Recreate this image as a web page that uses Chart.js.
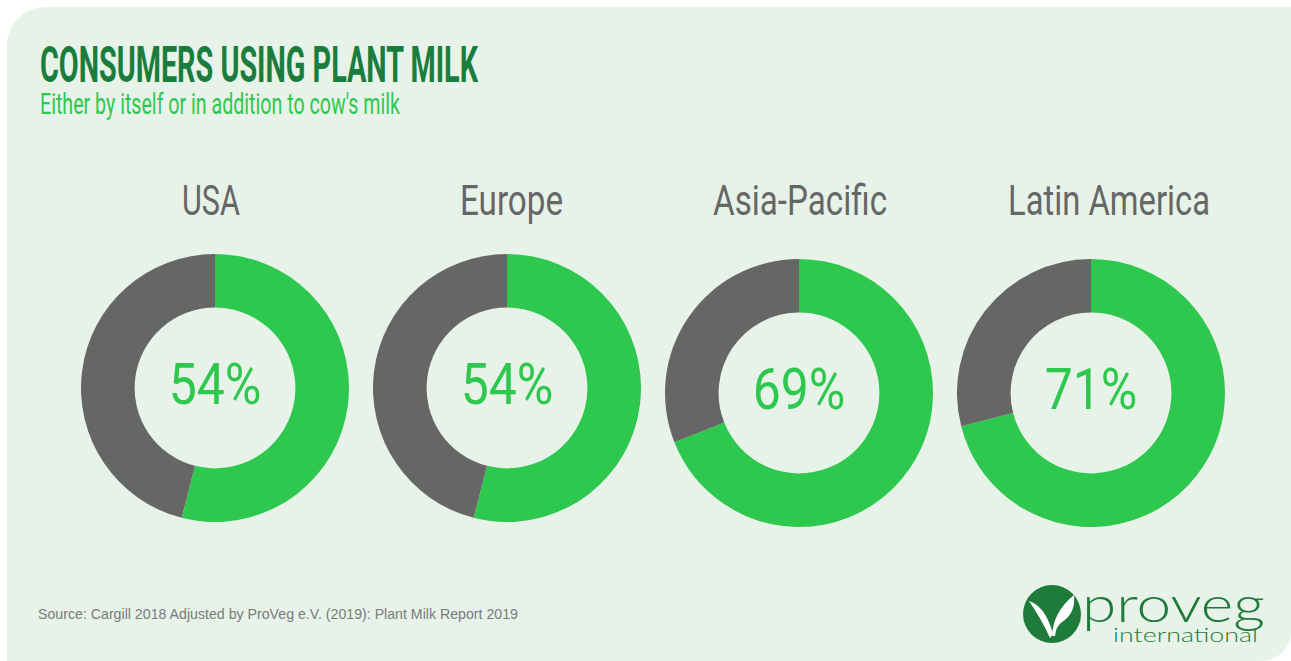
<!DOCTYPE html>
<html>
<head>
<meta charset="utf-8">
<script src="https://cdn.jsdelivr.net/npm/chart.js@4.4.1/dist/chart.umd.min.js"></script>
<style>
  html, body { margin: 0; padding: 0; background: #fff; }
  body { width: 1291px; height: 661px; position: relative; overflow: hidden;
         font-family: Roboto, "Liberation Sans", sans-serif; }
  #panel { position: absolute; left: 7px; top: 7px; width: 1284px; height: 654px;
           background: #e7f3e9; border-radius: 38px 0 30px 0; }
  .txt { position: absolute; white-space: nowrap; line-height: 1; transform-origin: 0 0; }
  #title { left: 40px; top: 40px; font-size: 50px; font-weight: bold; color: #1a7d3c; }
  #subtitle { left: 40px; top: 90px; font-size: 29.5px; color: #2dc84d; }
  .region { font-size: 42px; color: #666; top: 180px; }
  #source { left: 38px; top: 607px; font-family: "Liberation Sans", Arial, sans-serif;
            font-size: 14.5px; color: #7a7a7a; }
  canvas.ring { position: absolute; }
  #logo { position: absolute; left: 1015px; top: 580px; }
</style>
</head>
<body>
<div id="panel"></div>
<div class="txt" id="title">CONSUMERS USING PLANT MILK</div>
<div class="txt" id="subtitle">Either by itself or in addition to cow's milk</div>
<div class="txt" id="source">Source: Cargill 2018 Adjusted by ProVeg e.V. (2019): Plant Milk Report 2019</div>

<svg id="logo" width="270" height="78" viewBox="0 0 270 78">
  <circle cx="37" cy="34" r="29" fill="#1e7b3a"/>
  <path d="M35 58 Q27 40 14 21 Q24 24 31 36 Q36 46 38 54 Z" fill="#fff"/>
  <path d="M37 56 Q38 32 59 15 Q61 33 47 42 Q41 46 40 56 Z" fill="#fff"/>
  <text x="67" y="42" font-family="Lato, 'Open Sans', sans-serif" font-weight="300" font-size="50" fill="#1e7b3a"
        textLength="183" lengthAdjust="spacingAndGlyphs">proveg</text>
  <text x="98" y="62" font-family="Lato, 'Open Sans', sans-serif" font-weight="300" font-size="20" fill="#1e7b3a"
        textLength="145" lengthAdjust="spacingAndGlyphs">international</text>
</svg>

<script>
// data
const regions = ['USA', 'Europe', 'Asia-Pacific', 'Latin America'];
const usingPlantMilk = [54, 54, 69, 71];
const notUsing = [46, 46, 31, 29];

// layout: ring centres, label centre x and label widths
const ringX = [215, 507, 799, 1091];
const ringY = [388, 388, 393, 393];
const labelX = [211, 511, 800, 1109];
const labelW = [58, 103, 174, 202];
const R = 134;

const GREEN = '#2dc84d';
const GREY = '#666666';

// squeeze a text block to a given pixel width
function fit(el, w) {
  const cur = el.getBoundingClientRect().width;
  el.style.transform = 'scaleX(' + (w / cur) + ')';
}
fit(document.getElementById('title'), 438);
fit(document.getElementById('subtitle'), 360);
fit(document.getElementById('source'), 480);

const centerText = {
  id: 'centerText',
  afterDraw(chart, args, opts) {
    const arc = chart.getDatasetMeta(0).data[0];
    const ctx = chart.ctx;
    ctx.save();
    ctx.font = '58px Roboto';
    ctx.fillStyle = GREEN;
    ctx.textAlign = 'center';
    ctx.textBaseline = 'alphabetic';
    ctx.translate(arc.x, arc.y + 16);
    ctx.scale(0.86, 1);
    ctx.fillText(opts.text, 0, 0);
    ctx.restore();
  }
};

regions.forEach((name, i) => {
  // region label above the ring
  const lab = document.createElement('div');
  lab.className = 'txt region';
  lab.textContent = name;
  document.body.appendChild(lab);
  const w = lab.getBoundingClientRect().width;
  lab.style.left = (labelX[i] - labelW[i] / 2) + 'px';
  lab.style.transform = 'scaleX(' + (labelW[i] / w) + ')';

  const cv = document.createElement('canvas');
  cv.className = 'ring';
  cv.width = 2 * R;
  cv.height = 2 * R;
  cv.style.left = (ringX[i] - R) + 'px';
  cv.style.top = (ringY[i] - R) + 'px';
  document.body.appendChild(cv);

  new Chart(cv.getContext('2d'), {
    type: 'doughnut',
    data: {
      labels: ['Using plant milk', 'Not using'],
      datasets: [{
        data: [usingPlantMilk[i], notUsing[i]],
        backgroundColor: [GREEN, GREY],
        borderWidth: 0,
        offset: 0,
        hoverOffset: 0
      }]
    },
    options: {
      responsive: false,
      animation: false,
      cutout: '60%',
      layout: { padding: 0 },
      events: [],
      plugins: {
        legend: { display: false },
        tooltip: { enabled: false },
        centerText: { text: usingPlantMilk[i] + '%' }
      }
    },
    plugins: [centerText]
  });
});
</script>
</body>
</html>
